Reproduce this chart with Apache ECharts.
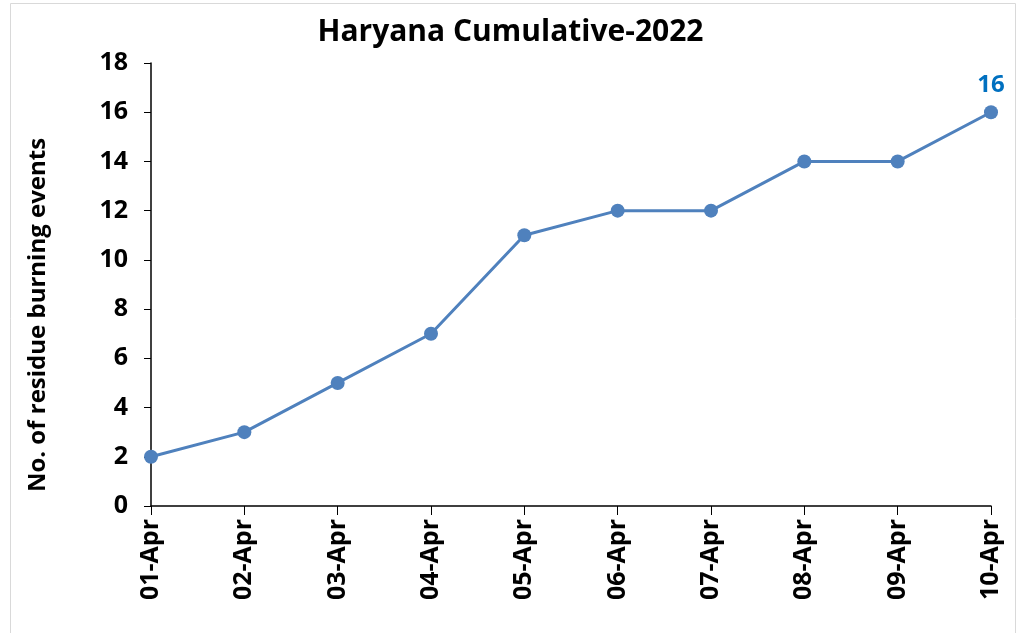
<!DOCTYPE html>
<html>
<head>
<meta charset="utf-8">
<script src="https://cdn.jsdelivr.net/npm/echarts@6/dist/echarts.min.js"></script>
<style>
  html, body { margin: 0; padding: 0; background: #fff; }
  #chart { width: 1021px; height: 633px; }
</style>
</head>
<body>
<div id="chart"></div>
<script>
const days = ["01-Apr", "02-Apr", "03-Apr", "04-Apr", "05-Apr", "06-Apr", "07-Apr", "08-Apr", "09-Apr", "10-Apr"];
const events = [2, 3, 5, 7, 11, 12, 12, 14, 14, 16];
const font = "'Open Sans', 'Liberation Sans', sans-serif";

const chart = echarts.init(document.getElementById("chart"));
chart.setOption({
  animation: false,
  title: {
    text: "Haryana Cumulative-2022",
    left: "center",
    top: 12,
    textStyle: { fontFamily: font, fontSize: 30, fontWeight: "bold", color: "#000" },
  },
  graphic: [
    {
      type: "rect",
      shape: { x: 10.5, y: 3.5, width: 1005, height: 640 },
      style: { fill: "none", stroke: "#d9d9d9", lineWidth: 1 },
      silent: true,
    },
    {
      type: "text",
      x: 38,
      y: 315,
      rotation: Math.PI / 2,
      style: {
        text: "No. of residue burning events",
        font: "bold 24px " + font,
        fill: "#000",
        align: "center",
        verticalAlign: "middle",
      },
    },
  ],
  grid: { left: 151, right: 30, top: 63, bottom: 127 },
  xAxis: {
    type: "category",
    data: days,
    boundaryGap: false,
    axisLine: { lineStyle: { color: "#000", width: 1.5 } },
    axisTick: { show: true, length: 9, alignWithLabel: true, lineStyle: { color: "#000" } },
    axisLabel: {
      rotate: 90,
      margin: 13,
      fontFamily: font,
      fontSize: 25,
      fontWeight: "bold",
      color: "#000",
    },
  },
  yAxis: {
    type: "value",
    min: 0,
    max: 18,
    interval: 2,
    splitLine: { show: false },
    axisLine: { show: true, lineStyle: { color: "#000", width: 1.5 } },
    axisTick: { show: true, length: 7, lineStyle: { color: "#000" } },
    axisLabel: {
      margin: 23,
      fontFamily: font,
      fontSize: 25,
      fontWeight: "bold",
      color: "#000",
    },
  },
  series: [
    {
      type: "line",
      data: events.map((v, i) => ({
        value: v,
        label: i === events.length - 1 ? { show: true } : { show: false },
      })),
      symbol: "circle",
      symbolSize: 14,
      lineStyle: { color: "#4f81bd", width: 3 },
      itemStyle: { color: "#4f81bd" },
      label: {
        position: "top",
        distance: 8,
        fontFamily: font,
        fontSize: 24,
        fontWeight: "bold",
        color: "#0070c0",
      },
    },
  ],
});
</script>
</body>
</html>
